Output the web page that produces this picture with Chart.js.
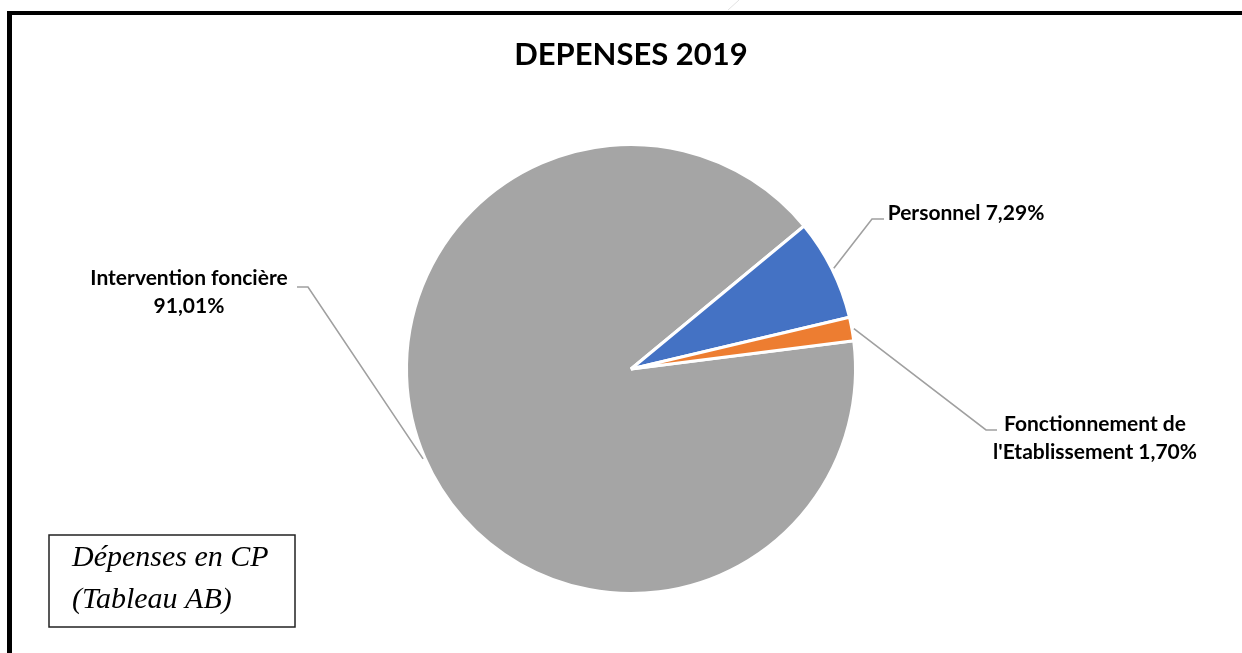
<!DOCTYPE html>
<html>
<head>
<meta charset="utf-8">
<script src="https://cdn.jsdelivr.net/npm/chart.js@4.4.0/dist/chart.umd.min.js"></script>
<style>
  html, body { margin: 0; padding: 0; background: #fff; }
</style>
</head>
<body>
<canvas id="chart" width="1242" height="653"></canvas>
<script>
// data
const categories = ['Intervention foncière', 'Personnel', "Fonctionnement de l'Etablissement"];
const shares = [91.01, 7.29, 1.70];
const sliceColors = ['#A5A5A5', '#4472C4', '#ED7D31'];
const chartTitle = 'DEPENSES 2019';
const noteLines = ['Dépenses en CP', '(Tableau AB)'];

const pct = v => v.toFixed(2).replace('.', ',') + '%';

// label placement (elbow of leader line, end of leader, text centre)
const labelPos = [
    { elbow: [308, 287], end: [297, 287], cx: 189, cy: 278 },
    { elbow: [872, 219], end: [884, 219], cx: 966, cy: 213 },
    { elbow: [986, 430], end: [997, 430], cx: 1095, cy: 424 }
];

function wrap(ctx, text, maxW) {
    const words = text.split(' ');
    const lines = [];
    let cur = '';
    words.forEach(w => {
        const t = cur ? cur + ' ' + w : w;
        if (cur && ctx.measureText(t).width > maxW) { lines.push(cur); cur = w; }
        else cur = t;
    });
    if (cur) lines.push(cur);
    return lines;
}

const decor = {
    id: 'decor',
    afterDraw(chart) {
        const ctx = chart.ctx;
        ctx.save();

        // cadre
        ctx.fillStyle = '#000';
        ctx.fillRect(7, 11, 1242 - 7, 4);
        ctx.fillRect(7, 11, 5, 653 - 11);
        ctx.strokeStyle = '#e2e2e2';
        ctx.lineWidth = 1;
        ctx.beginPath(); ctx.moveTo(728, 10); ctx.lineTo(739, 0); ctx.stroke();

        // titre
        ctx.fillStyle = '#000';
        ctx.font = 'bold 31px Lato';
        ctx.textAlign = 'center';
        ctx.textBaseline = 'middle';
        ctx.fillText(chartTitle, 631, 55);

        // étiquettes + lignes de repère
        const meta = chart.getDatasetMeta(0);
        ctx.font = 'bold 21px Lato';
        meta.data.forEach((arc, i) => {
            const p = labelPos[i];
            const mid = (arc.startAngle + arc.endAngle) / 2;
            const r = arc.outerRadius + 2;
            const sx = arc.x + Math.cos(mid) * r;
            const sy = arc.y + Math.sin(mid) * r;
            ctx.strokeStyle = '#A0A0A0';
            ctx.lineWidth = 1.6;
            ctx.beginPath();
            ctx.moveTo(sx, sy);
            ctx.lineTo(p.elbow[0], p.elbow[1]);
            ctx.lineTo(p.end[0], p.end[1]);
            ctx.stroke();

            ctx.fillStyle = '#000';
            const lines = wrap(ctx, categories[i] + ' ' + pct(shares[i]), 225);
            lines.forEach((ln, k) => ctx.fillText(ln, p.cx, p.cy + k * 28));
        });

        // encadré
        ctx.strokeStyle = '#222';
        ctx.lineWidth = 1.5;
        ctx.strokeRect(49, 535, 246, 92);
        ctx.font = 'italic 30px "Liberation Serif"';
        ctx.textAlign = 'left';
        ctx.textBaseline = 'alphabetic';
        noteLines.forEach((t, k) => ctx.fillText(t, 72, 566 + k * 42));

        ctx.restore();
    }
};

new Chart(document.getElementById('chart'), {
    type: 'pie',
    data: {
        labels: categories,
        datasets: [{
            data: shares,
            backgroundColor: sliceColors,
            borderColor: '#fff',
            borderWidth: 3,
            radius: 224.5
        }]
    },
    options: {
        responsive: false,
        animation: false,
        rotation: 82.8,
        layout: { padding: { left: 20, right: 0, top: 85, bottom: 0 } },
        plugins: {
            legend: { display: false },
            tooltip: { enabled: false },
            title: { display: false }
        }
    },
    plugins: [decor]
});
</script>
</body>
</html>
